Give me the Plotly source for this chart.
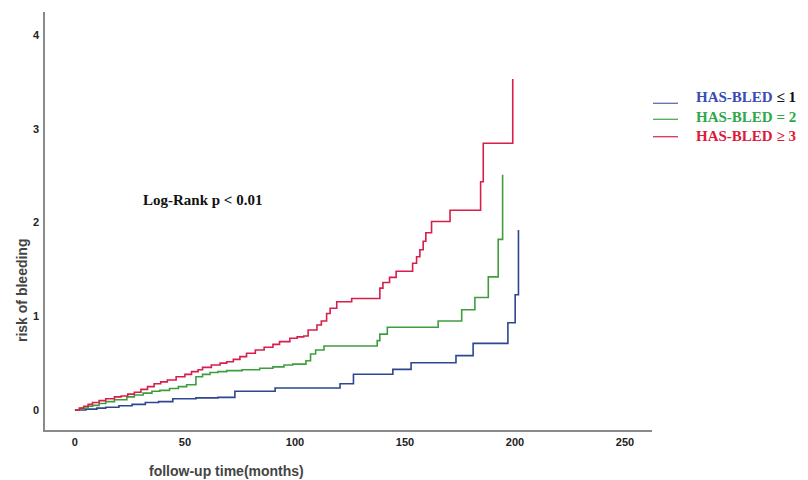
import plotly.graph_objects as go

# ---- data (months, cumulative risk) ----
blue_t = [0, 5, 10, 14, 20, 26, 32, 38, 44.5, 55, 65, 72.7, 91, 120.5, 126.6, 144.5, 152.8, 173.2, 181, 196.8, 200.1, 201.6]
blue_y = [0, 0.01, 0.02, 0.03, 0.045, 0.06, 0.08, 0.09, 0.12, 0.13, 0.135, 0.2, 0.235, 0.281, 0.381, 0.434, 0.505, 0.58, 0.711, 0.931, 1.23, 1.92]

green_t = [0, 3, 6, 8, 11, 14, 18, 23.6, 27, 31, 35, 38.6, 43, 47, 50.8, 55, 58, 61.4, 65, 69, 76, 84, 90, 95, 99,
           105, 107.1, 109.4, 113.2, 137.4, 138.6, 142, 165.1, 175.8, 181.8, 187.9, 192.4, 194.4]
green_y = [0, 0.02, 0.04, 0.05, 0.07, 0.09, 0.11, 0.14, 0.16, 0.18, 0.20, 0.21, 0.23, 0.25, 0.27, 0.355, 0.38, 0.40, 0.41, 0.42, 0.43, 0.445, 0.46, 0.48, 0.49,
           0.526, 0.597, 0.64, 0.683, 0.74, 0.81, 0.883, 0.95, 1.07, 1.2, 1.42, 1.82, 2.51]

red_t = [0, 2, 4, 6, 8, 11, 14, 18, 21, 24, 27, 30, 33, 36, 39, 42, 46, 50, 53, 56, 58, 62, 66, 69, 72, 75, 78, 82, 86, 90, 93,
         97.7, 101, 104, 106, 110, 112, 114.4, 116, 119, 125.8, 138.6, 140, 143, 146, 153.5, 155.3, 156.8, 158.3, 159.5, 162.1,
         170.5, 184.4, 185.6, 199]
red_y = [0, 0.02, 0.04, 0.06, 0.08, 0.10, 0.12, 0.14, 0.15, 0.17, 0.19, 0.22, 0.25, 0.28, 0.30, 0.32, 0.355, 0.38, 0.41, 0.43, 0.455, 0.48, 0.50, 0.515, 0.54, 0.57, 0.605, 0.64, 0.67, 0.70, 0.73,
         0.765, 0.78, 0.79, 0.853, 0.907, 0.95, 1.03, 1.085, 1.155, 1.19, 1.30, 1.36, 1.415, 1.48, 1.565, 1.635, 1.71, 1.80, 1.89, 2.01,
         2.13, 2.435, 2.845, 3.53]

x_ticks = [0, 50, 100, 150, 200, 250]
y_ticks = [0, 1, 2, 3, 4]

legend_labels = [
    "<b><span style='color:#3A4BB5'>HAS-BLED</span> ≤ 1</b>",
    "<b>HAS-BLED = 2</b>",
    "<b>HAS-BLED ≥ 3</b>",
]
legend_text_colors = ["#111111", "#2DA84A", "#E0193A"]
line_colors = ["#2E4690", "#3E9E3E", "#D81E4A"]
legend_line_colors = ["#5E6FA8", "#55A855", "#D8325A"]

# plot area (page pixels): x 45..652, y 12..430 ; page has an 8px body offset
L, R, T, B = 45, 652, 12, 430
OFF = 8
W, H = 808, 480
pw, ph = R - L, B - T


def px(x):
    return (x - L) / pw


def py(y):
    return (B - y) / ph


fig = go.Figure()
for t, y, c in [(blue_t, blue_y, line_colors[0]), (green_t, green_y, line_colors[1]), (red_t, red_y, line_colors[2])]:
    fig.add_trace(go.Scatter(x=t, y=y, mode="lines", line=dict(shape="hv", color=c, width=1.6), showlegend=False))

tickfont = dict(family="Liberation Sans Narrow, Liberation Sans, Arial", size=11, color="#222222")

annotations = [
    dict(text="<b>Log-Rank p < 0.01</b>", x=px(202), y=py(200), xanchor="center", yanchor="middle",
         font=dict(family="Liberation Serif, Times New Roman", size=15, color="#111111")),
    dict(text="<b>follow-up time(months)</b>", x=px(226), y=py(471), xanchor="center", yanchor="middle",
         font=dict(family="Liberation Sans, Arial", size=14, color="#444444")),
    dict(text="<b>risk of bleeding</b>", x=px(22), y=py(291), textangle=-90, xanchor="center", yanchor="middle",
         font=dict(family="Liberation Sans, Arial", size=14, color="#444444")),
]
legend_text_y = [97, 117.5, 136]
legend_line_y = [103.3, 119.3, 136.7]
for i in range(3):
    annotations.append(dict(text=legend_labels[i], x=px(694), y=py(legend_text_y[i]), xanchor="left", yanchor="middle",
                            font=dict(family="Liberation Serif, Times New Roman", size=15, color=legend_text_colors[i])))
for a in annotations:
    a.update(xref="paper", yref="paper", showarrow=False)

shapes = [dict(type="line", xref="paper", yref="paper", x0=px(653), x1=px(678), y0=py(legend_line_y[i]), y1=py(legend_line_y[i]),
               line=dict(color=legend_line_colors[i], width=1.3)) for i in range(3)]

fig.update_layout(
    width=W, height=H,
    margin=dict(l=L - OFF, r=W - (R - OFF), t=T - OFF, b=H - (B - OFF)),
    paper_bgcolor="white", plot_bgcolor="white",
    showlegend=False,
    xaxis=dict(range=[-13.6, 262.3], tickvals=x_ticks, ticktext=["<b>%d</b>" % v for v in x_ticks],
               showgrid=False, zeroline=False, showline=True, linecolor="#8a8a8a", linewidth=1.5,
               ticks="outside", ticklen=1, tickcolor="rgba(0,0,0,0)", tickfont=tickfont),
    yaxis=dict(range=[-0.213, 4.245], tickvals=y_ticks, ticktext=["<b>%d</b>" % v for v in y_ticks],
               showgrid=False, zeroline=False, showline=True, linecolor="#8a8a8a", linewidth=1.5,
               ticks="outside", ticklen=2, tickcolor="rgba(0,0,0,0)", tickfont=tickfont),
    annotations=annotations,
    shapes=shapes,
)

fig.write_html("out.html")
